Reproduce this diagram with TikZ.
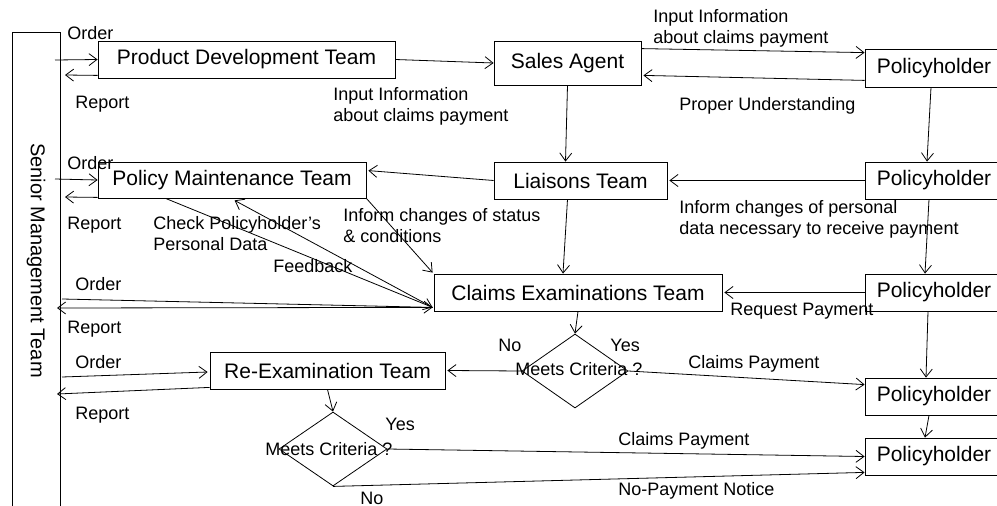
\documentclass[tikz,border=0pt]{standalone}
\usepackage{fontspec}
\setmainfont{Liberation Sans}
\usetikzlibrary{arrows.meta,calc,shapes.geometric}
\begin{document}
\begin{tikzpicture}[x=1pt,y=-1pt,line width=0.8pt,
  box/.style={draw, rectangle, inner sep=0pt, font=\fontsize{21}{25}\selectfont},
  dia/.style={draw, diamond, inner sep=0pt},
  lbl/.style={anchor=base west, inner sep=0pt, align=left, font=\fontsize{18}{21}\selectfont},
  arr/.style={-{Straight Barb[length=8pt,width=12pt]}}]
\useasboundingbox (0,0) rectangle (997,506);
\clip (0,0) rectangle (997,506);
\fill[white] (0,0) rectangle (997,506);

% Senior management
\node[draw, inner sep=0pt, minimum width=48pt, minimum height=500pt] (smt) at (36,282) {};
\node[rotate=-90, inner sep=0pt, font=\fontsize{20}{24}\selectfont] (smtt) at (36,260.5) {Senior Management Team};

% boxes
\node[box, minimum width=297pt, minimum height=37pt] (pdt) at (246.5,59.5) {Product Development Team};
\node[box, minimum width=147pt, minimum height=44pt] (sa) at (567.5,63) {Sales Agent};
\node[box, minimum width=138pt, minimum height=38pt] (ph1) at (934,68) {Policyholder};
\node[box, minimum width=268pt, minimum height=36pt] (pmt) at (232,180) {Policy Maintenance Team};
\node[box, minimum width=173pt, minimum height=37pt] (lt) at (580.5,180.5) {Liaisons Team};
\node[box, minimum width=138pt, minimum height=37pt] (ph2) at (934,180.5) {Policyholder};
\node[box, minimum width=288pt, minimum height=37pt] (cet) at (578,292.5) {Claims Examinations Team};
\node[box, minimum width=138pt, minimum height=37pt] (ph3) at (934,292.5) {Policyholder};
\node[box, minimum width=235pt, minimum height=37pt] (ret) at (327.5,370.5) {Re-Examination Team};
\node[box, minimum width=138pt, minimum height=37pt] (ph4) at (934,396.5) {Policyholder};
\node[box, minimum width=138pt, minimum height=37pt] (ph5) at (934,456.5) {Policyholder};
\node[dia, minimum width=106pt, minimum height=74pt] (d1) at (575,371) {};
\node[dia, minimum width=108pt, minimum height=74pt] (d2) at (333,449) {};
\node[lbl] (d1t) at (515,375) {Meets Criteria ?};
\node[lbl] (d2t) at (265,455) {Meets Criteria ?};

% free ends at the management column
\coordinate (o1) at (55,60);
\coordinate (r1) at (65,75);
\coordinate (o2) at (55,179);
\coordinate (r2) at (65,197);
\coordinate (o3) at (62,299);
\coordinate (r3) at (57,308);
\coordinate (o4) at (62,377);
\coordinate (r4) at (57,394);
\coordinate (cv) at ($(cet.south west)+(-1,-4)$);

% connectors
\draw[arr] (o1) -- (pdt.west);
\draw[arr] ($(pdt.south west)+(0,-3)$) -- (r1);
\draw[arr] (pdt.east) -- (sa.west);
\draw[arr] ($(sa.north east)+(0,8)$) -- ($(ph1.north west)+(0,4)$);
\draw[arr] ($(ph1.south west)+(0,-7)$) -- ($(sa.south east)+(2,-10)$);
\draw[arr] (sa.south) -- ($(lt.north)+(-15,0)$);
\draw[arr] ($(ph1.south)+(-3,0)$) -- ($(ph2.north)+(-7,0)$);
\draw[arr] (ph2.west) -- ($(lt.east)+(2,0)$);
\draw[arr] (o2) -- (pmt.west);
\draw[arr] ($(pmt.south west)+(0,-1)$) -- (r2);
\draw[arr] (lt.west) -- ($(pmt.north east)+(2,9)$);
\draw[arr] ($(lt.south)+(-13,0)$) -- ($(cet.north)+(-15,0)$);
\draw[arr] ($(ph2.south)+(-5,0)$) -- ($(ph3.north)+(-9,0)$);
\draw[arr] (ph3.west) -- ($(cet.east)+(2,0)$);
\draw[arr] (pmt.south east) -- ($(cet.north west)+(-1,-1)$);
\draw[arr] ($(pmt.south west)+(68,0)$) -- (cv);
\draw[arr] (cv) -- ($(pmt.south west)+(137,2)$);
\draw[arr] (o3) -- (cv);
\draw[arr] (cv) -- (r3);
\draw[arr] (cet.south) -- (d1.north);
\draw[arr] (d1.west) -- ($(ret.east)+(2,0)$);
\draw[arr] (d1.east) -- ($(ph4.north west)+(0,7)$);
\draw[arr] ($(ph3.south)+(-6,0)$) -- ($(ph4.north)+(-8,0)$);
\draw[arr] ($(ph4.south)+(-5,0)$) -- ($(ph5.north)+(-9,0)$);
\draw[arr] (o4) -- ($(ret.west)+(-2,1.5)$);
\draw[arr] ($(ret.south west)+(0,-2)$) -- (r4);
\draw[arr] (ret.south) -- (d2.north);
\draw[arr] (d2.east) -- (ph5.west);
\draw[arr] (d2.south) -- ($(ph5.south west)+(0,-3)$);

% labels
\node[lbl] (l1) at (67,39) {Order};
\node[lbl] (l2) at (75,108) {Report};
\node[lbl] (l3) at (333,121) {Input Information\\about claims payment};
\node[lbl] (l4) at (653,43) {Input Information\\about claims payment};
\node[lbl] (l5) at (679,110) {Proper Understanding};
\node[lbl] (l6) at (67,169) {Order};
\node[lbl] (l7) at (67,229) {Report};
\node[lbl] (l8) at (153,250) {Check Policyholder’s\\Personal Data};
\node[lbl] (l9) at (343,242) {Inform changes of status\\\& conditions};
\node[lbl] (l10) at (273,272) {Feedback};
\node[lbl] (l11) at (679,234) {Inform changes of personal\\data necessary to receive payment};
\node[lbl] (l12) at (75,290) {Order};
\node[lbl] (l13) at (67,333) {Report};
\node[lbl] (l14) at (730,315) {Request Payment};
\node[lbl] (l15) at (498,351) {No};
\node[lbl] (l16) at (610,351) {Yes};
\node[lbl] (l17) at (688,368) {Claims Payment};
\node[lbl] (l18) at (75,368) {Order};
\node[lbl] (l19) at (75,419) {Report};
\node[lbl] (l20) at (385,430) {Yes};
\node[lbl] (l21) at (360,504) {No};
\node[lbl] (l22) at (618,445) {Claims Payment};
\node[lbl] (l23) at (618,495) {No-Payment Notice};
\end{tikzpicture}
\end{document}
